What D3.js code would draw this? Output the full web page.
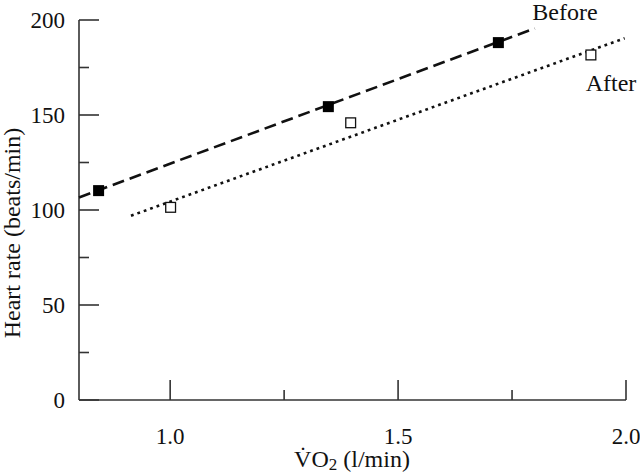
<!DOCTYPE html>
<html><head>
<meta charset="utf-8">
<script src="https://d3js.org/d3.v7.min.js"></script>
<style>
  body { margin: 0; background: #fff; }
  svg text { font-family: "Liberation Serif", "Times New Roman", serif; fill: #111; }
</style>
</head>
<body>
<svg id="chart" width="640" height="473"></svg>
<script>
// values
const beforeX = [0.843, 1.347, 1.720];
const beforeY = [110.2, 154.4, 188.1];
const afterX = [1.001, 1.396, 1.923];
const afterY = [101.4, 145.9, 181.6];
// fitted lines, start and end
const beforeLineX = [0.80, 1.80];
const beforeLineY = [106.6, 195.6];
const afterLineX = [0.914, 1.997];
const afterLineY = [97.0, 190.4];

const xMajor = [1.0, 1.5, 2.0];
const xMinor = [1.25, 1.75];
const yMajor = [0, 50, 100, 150, 200];
const yMinor = [25, 75, 125, 175];

let svg = d3.select("#chart");
let x = d3.scaleLinear().domain([0.8, 2.0]).range([79, 626]);
let y = d3.scaleLinear().domain([0, 200]).range([400, 20]);

const axisCol = "#333";

// y axis
let yAx = svg.append("g");
yAx.append("line").attr("x1", x(0.8)).attr("x2", x(0.8))
  .attr("y1", y(0)).attr("y2", y(200))
  .style("stroke", axisCol).style("stroke-width", 1.6);
yMajor.forEach(function(v) {
  yAx.append("line").attr("x1", x(0.8)).attr("x2", x(0.8) + 20)
    .attr("y1", y(v)).attr("y2", y(v))
    .style("stroke", axisCol).style("stroke-width", 1.6);
  yAx.append("text").attr("x", 65).attr("y", y(v) + 8)
    .attr("text-anchor", "end").style("font-size", "23px").text(v);
});
yMinor.forEach(function(v) {
  yAx.append("line").attr("x1", x(0.8)).attr("x2", x(0.8) + 10)
    .attr("y1", y(v)).attr("y2", y(v))
    .style("stroke", axisCol).style("stroke-width", 1.6);
});

// x axis
let xAx = svg.append("g");
xAx.append("line").attr("x1", x(0.8)).attr("x2", x(2.0))
  .attr("y1", y(0)).attr("y2", y(0))
  .style("stroke", axisCol).style("stroke-width", 1.6);
xMajor.forEach(function(v) {
  xAx.append("line").attr("x1", x(v)).attr("x2", x(v))
    .attr("y1", y(0)).attr("y2", y(0) - 20)
    .style("stroke", axisCol).style("stroke-width", 1.6);
  xAx.append("text").attr("x", x(v)).attr("y", 444)
    .attr("text-anchor", "middle").style("font-size", "23px").text(v.toFixed(1));
});
xMinor.forEach(function(v) {
  xAx.append("line").attr("x1", x(v)).attr("x2", x(v))
    .attr("y1", y(0)).attr("y2", y(0) - 10)
    .style("stroke", axisCol).style("stroke-width", 1.6);
});

// axis titles
svg.append("text")
  .attr("transform", "translate(20,233) rotate(-90)")
  .attr("text-anchor", "middle").style("font-size", "24px")
  .text("Heart rate (beats/min)");

let xt = svg.append("text").attr("x", 352).attr("y", 467)
  .attr("text-anchor", "middle").style("font-size", "24px");
xt.append("tspan").text("V\u0307O");
xt.append("tspan").attr("dy", 3).style("font-size", "17px").text("2");
xt.append("tspan").attr("dy", -3).text(" (l/min)");

// lines
let line = d3.line().x(d => x(d[0])).y(d => y(d[1]));
svg.append("path").datum(d3.zip(beforeLineX, beforeLineY)).attr("d", line)
  .style("fill", "none").style("stroke", "#111").style("stroke-width", 2.6)
  .style("stroke-dasharray", "12,6");
svg.append("path").datum(d3.zip(afterLineX, afterLineY)).attr("d", line)
  .style("fill", "none").style("stroke", "#111").style("stroke-width", 2.6)
  .style("stroke-dasharray", "2.8,4");

// markers
const s = 11;
d3.zip(beforeX, beforeY).forEach(function(d) {
  svg.append("rect").attr("x", x(d[0]) - s / 2).attr("y", y(d[1]) - s / 2)
    .attr("width", s).attr("height", s).style("fill", "#000");
});
d3.zip(afterX, afterY).forEach(function(d) {
  svg.append("rect").attr("x", x(d[0]) - s / 2 + 0.6).attr("y", y(d[1]) - s / 2 + 0.6)
    .attr("width", s - 1.2).attr("height", s - 1.2)
    .style("fill", "#fff").style("stroke", "#111").style("stroke-width", 1.3);
});

// labels
svg.append("text").attr("x", 565).attr("y", 20).attr("text-anchor", "middle")
  .style("font-size", "24px").text("Before");
svg.append("text").attr("x", 611).attr("y", 91).attr("text-anchor", "middle")
  .style("font-size", "24px").text("After");
</script>
</body>
</html>
